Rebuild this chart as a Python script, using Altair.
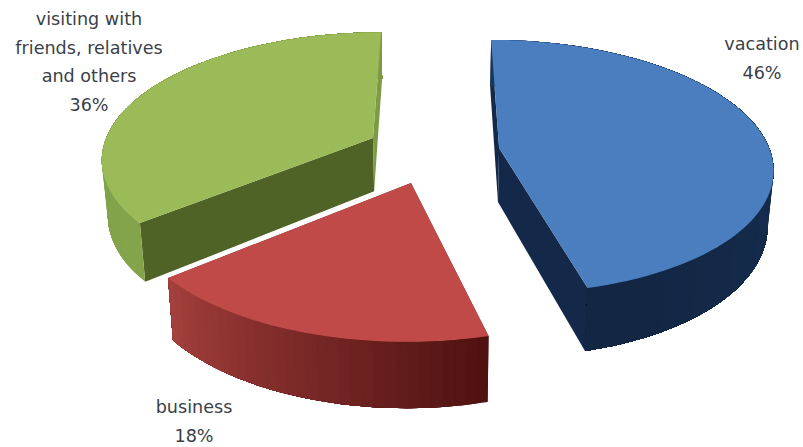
import math
import altair as alt

# Trip purpose shares, in percent, clockwise from twelve o'clock
names = ["vacation", "business", "visiting with\nfriends, relatives\nand others"]
shares = [46, 18, 36]

# Colours per slice: top face, walls on the sweep's first and last radius,
# and the outer wall at each end of its sweep
top_colors = ["#4A7EBE", "#C04A48", "#9BBB59"]
first_radial_colors = ["#14294A", "#6E2320", "#506327"]
last_radial_colors = ["#14294A", "#6E2320", "#7C9B44"]
outer_from = ["#17365D", "#4F1211", "#84A44B"]
outer_to = ["#132643", "#A33F3C", "#7C9B44"]

# Exploded position of each slice's apex on the pie plane
apex_x = [0.23, -0.0925, -0.24]
apex_y = [0.0, -0.271, 0.0816]

# Camera: vanishing column, horizon row, radii, foreshortening, wall depth
VX, VY, RX, RY, K, DEPTH, FLOOR = 437, 148, 270, 124, 0.147, 54, 0.982

# Label placement: centre x and top y of the first line
label_x = [762, 194, 89]
label_y = [36, 399, 11]


def project(x, y, lower=False):
    s = 1 / (1 + K * y)
    px = VX + RX * x * s
    py = VY - RY * y * s
    if lower:
        px = VX + (px - VX) * FLOOR
        py += DEPTH * s
    return [round(px, 2), round(py, 2)]


def mix(a, b, f):
    ca = [int(a[i:i + 2], 16) for i in (1, 3, 5)]
    cb = [int(b[i:i + 2], 16) for i in (1, 3, 5)]
    return "#" + "".join(f"{round(p + (q - p) * f):02x}" for p, q in zip(ca, cb))


def polygon(points, fill):
    return {
        "type": "Feature",
        "properties": {"fill": fill},
        "geometry": {"type": "Polygon", "coordinates": [points + [points[0]]]},
    }


def slice_faces(i, t0, t1):
    ax, ay = apex_x[i], apex_y[i]
    n = max(2, round((t1 - t0) / 2))
    ts = [math.radians(t0 + (t1 - t0) * j / n) for j in range(n + 1)]
    rim = [(ax + math.sin(t), ay + math.cos(t)) for t in ts]
    faces = []
    # Radial walls
    for (x, y), color in ((rim[0], first_radial_colors[i]), (rim[-1], last_radial_colors[i])):
        faces.append(polygon([project(ax, ay), project(x, y),
                              project(x, y, True), project(ax, ay, True)], color))
    # Curved outer wall: each band runs to the sweep's end and the next paints over it,
    # so neighbouring shades leave no seam between them
    for j in range(n):
        rest = rim[j:]
        color = mix(outer_from[i], outer_to[i], j / (n - 1))
        faces.append(polygon([project(*p) for p in rest] +
                             [project(*p, True) for p in reversed(rest)], color))
    # Top face
    faces.append(polygon([project(ax, ay)] + [project(x, y) for x, y in rim], top_colors[i]))
    return faces


# Painted back to front: green, red, blue
angles = []
running = 0
for share in shares:
    angles.append((running * 3.6, (running + share) * 3.6))
    running += share

features = []
for i in (2, 1, 0):
    features += slice_faces(i, *angles[i])

pie = alt.Chart(alt.Data(values=features)).mark_geoshape(strokeWidth=0).encode(
    color=alt.Color("properties.fill:N", scale=None),
).project(type="identity", scale=1, translate=[0, 0])

labels = [
    alt.Chart(alt.Data(values=[{"label": f"{names[i]}\n{shares[i]}%"}]))
    .mark_text(font="DejaVu Sans", fontSize=17.6, color="#3A3F4A", align="center",
               baseline="top", lineBreak="\n", lineHeight=28.5)
    .encode(text="label:N", x=alt.value(label_x[i]), y=alt.value(label_y[i]))
    for i in range(3)
]

chart = alt.layer(pie, *labels).properties(
    width=803, height=447, padding=0, autosize=alt.AutoSizeParams(type="none"),
    background="white",
).configure_view(stroke=None)

chart.save("out.html", embed_options={"renderer": "svg", "actions": False})
